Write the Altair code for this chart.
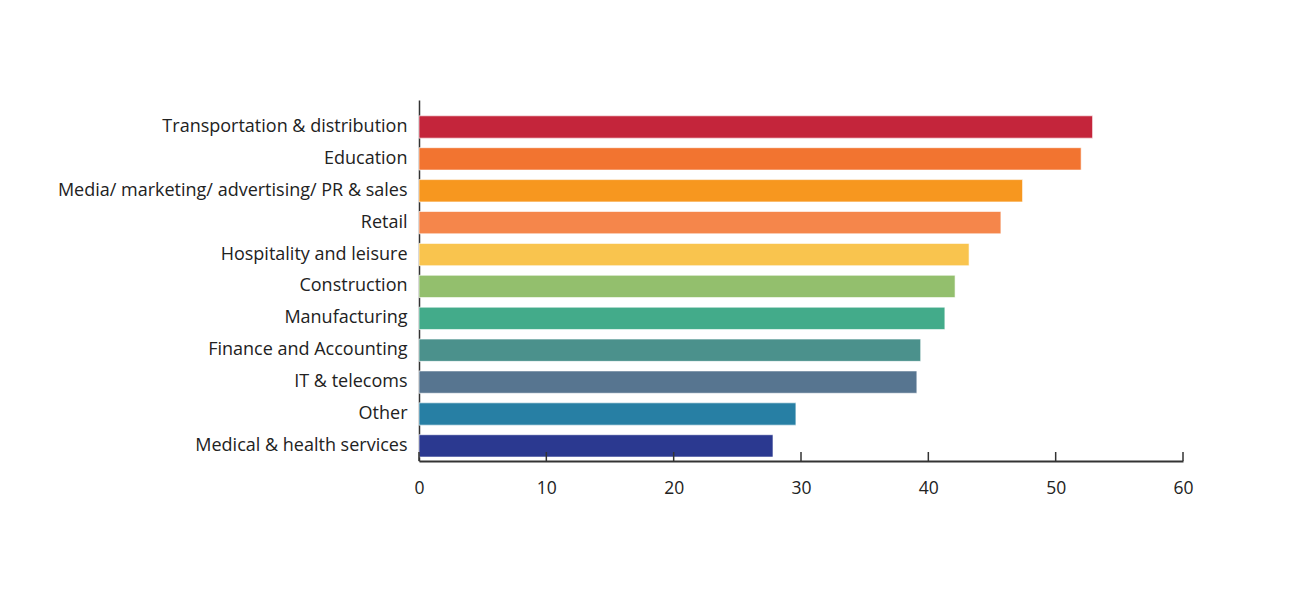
import altair as alt
import pandas as pd

categories = [
    "Transportation & distribution",
    "Education",
    "Media/ marketing/ advertising/ PR & sales",
    "Retail",
    "Hospitality and leisure",
    "Construction",
    "Manufacturing",
    "Finance and Accounting",
    "IT & telecoms",
    "Other",
    "Medical & health services",
]
values = [52.9, 52.0, 47.4, 45.7, 43.2, 42.1, 41.3, 39.4, 39.1, 29.6, 27.8]
colors = ["#C4253B", "#F27430", "#F7971F", "#F5864B", "#F9C44E", "#93BF6D",
          "#43AB8A", "#4B918C", "#577590", "#277FA4", "#2B3990"]
tick_values = [0, 10, 20, 30, 40, 50, 60]

df = pd.DataFrame({"category": categories, "value": values})
ticks_df = pd.DataFrame({"t": tick_values})

FONT = "Open Sans"
W, H = 764, 361

x_scale = alt.Scale(domain=[0, 60], nice=False, zero=True)

bars = alt.Chart(df).mark_bar(stroke="#ffffff", strokeOpacity=0.6, strokeWidth=1).encode(
    x=alt.X("value:Q", scale=x_scale,
            axis=alt.Axis(values=tick_values, title=None, ticks=False, grid=False,
                          domainColor="#333333", domainWidth=2,
                          labelFont=FONT, labelFontSize=17.5, labelColor="#222222",
                          labelFlush=False, labelPadding=18)),
    y=alt.Y("category:N", sort=categories,
            scale=alt.Scale(paddingInner=0.3, paddingOuter=0.31, align=0.8),
            axis=alt.Axis(title=None, ticks=False, grid=False,
                          domainColor="#333333", domainWidth=1.5,
                          labelFont=FONT, labelFontSize=18, labelColor="#222222",
                          labelPadding=12, labelLimit=420)),
    color=alt.Color("category:N", sort=categories,
                    scale=alt.Scale(domain=categories, range=colors), legend=None),
)

tick_marks = alt.Chart(ticks_df).mark_rule(color="#333333", strokeWidth=1.5).encode(
    x=alt.X("t:Q", scale=x_scale),
    y=alt.value(H - 9),
    y2=alt.value(H),
)

chart = alt.layer(bars, tick_marks).properties(
    width=W, height=H,
    autosize=alt.AutoSizeParams(type="none"),
    padding={"left": 411, "top": 92, "right": 100, "bottom": 130},
    background="#ffffff",
).configure_view(stroke=None)

chart.save("out.html", embed_options={"renderer": "svg", "actions": False})
